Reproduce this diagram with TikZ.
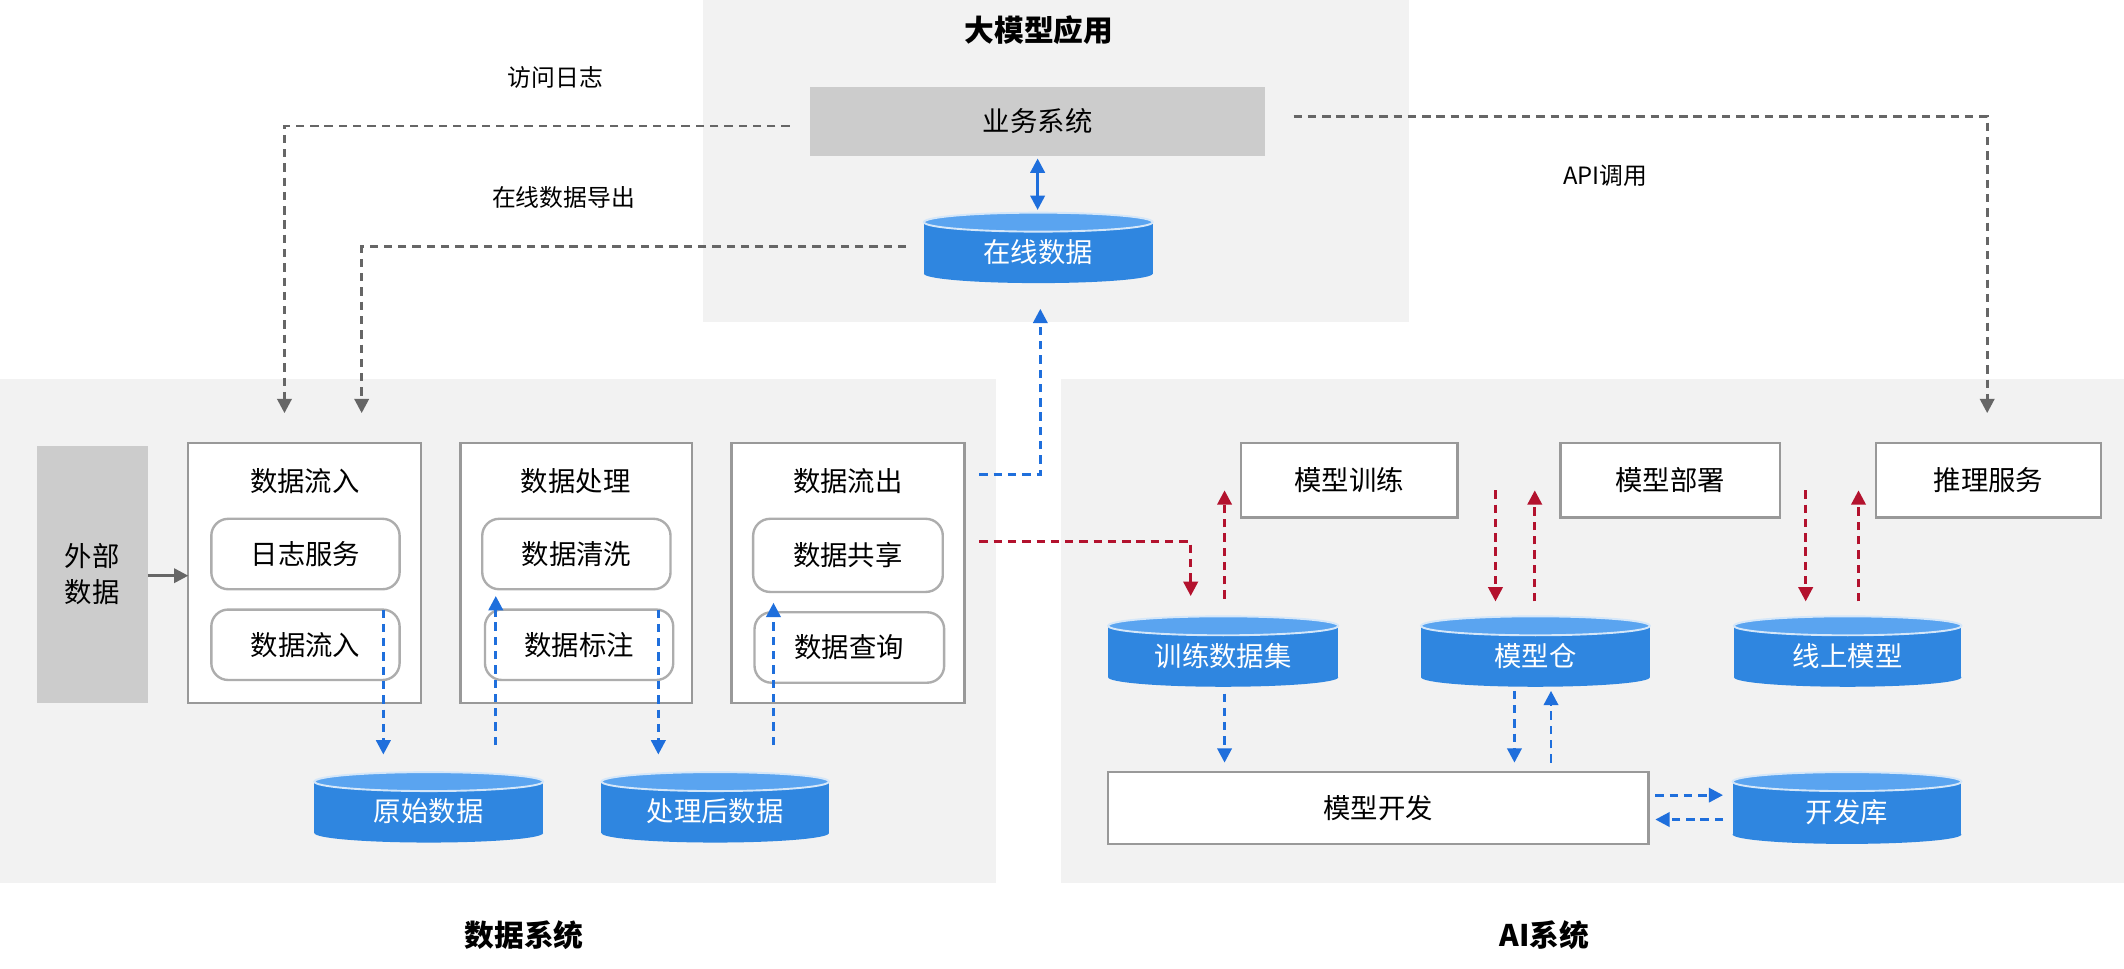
\documentclass[tikz,border=0pt]{standalone}
\usepackage{fontspec}
\setmainfont{Noto Sans CJK SC}
\usetikzlibrary{arrows.meta}
\definecolor{panel}{HTML}{F2F2F2}
\definecolor{bgray}{HTML}{CCCCCC}
\definecolor{cblue}{HTML}{2F86E0}
\definecolor{ctop}{HTML}{5AA4F0}
\definecolor{ablue}{HTML}{1F6FDC}
\definecolor{ared}{HTML}{B3122E}
\definecolor{agray}{HTML}{666666}
\definecolor{bord}{HTML}{999999}
\newcommand\bx[7]{\node[#6, minimum width={(#4-#2)*0.02cm}, minimum height={(#5-#3)*0.02cm}] (#1) at ({(#2+#4)/2},{(#3+#5)/2}) {#7};}
\newcommand\cy[6]{%
 \fill[cblue] (#2,#3+7) rectangle (#4,#5-7);
 \fill[cblue] ({(#2+#4)/2},#5-7) ellipse [x radius={(#4-#2)*0.01cm}, y radius=0.14cm];
 \filldraw[fill=ctop,draw=white!80!cblue,line width=0.8pt] ({(#2+#4)/2},#3+7) ellipse [x radius={(#4-#2)*0.01cm}, y radius=0.14cm];
 \node[text=white,font=\fontsize{11.5}{13}\selectfont, minimum width={(#4-#2)*0.02cm}, minimum height={(#5-#3)*0.02cm}] (#1) at ({(#2+#4)/2},{(#3+#5)/2+3}) {#6};}
\tikzset{
 box/.style={draw=bord,line width=1pt,fill=white,inner sep=0,outer sep=0,font=\fontsize{11.5}{13}\selectfont},
 rbox/.style={box,rounded corners=0.25cm,draw=bord!80},
 gbox/.style={fill=bgray,inner sep=0,outer sep=0,align=center,font=\fontsize{11.5}{15}\selectfont},
 ttl/.style={font=\fontsize{11.5}{13}\selectfont,anchor=north},
 lbl/.style={font=\fontsize{10}{12}\selectfont},
 big/.style={font=\bfseries\fontsize{12.5}{14}\selectfont},
 ga/.style={draw=agray,line width=1.2pt,dash pattern=on 3.5pt off 2.5pt,-{Triangle[length=6pt,width=6pt,fill=agray]}},
 ba/.style={ga,draw=ablue,-{Triangle[length=6pt,width=6pt,fill=ablue]}},
 ra/.style={ga,draw=ared,-{Triangle[length=6pt,width=6pt,fill=ared]}},
}
\begin{document}
\begin{tikzpicture}[x=0.02cm,y=-0.02cm]
\useasboundingbox (0,0) rectangle (1568,715);
\fill[panel] (519,0) rectangle (1040,238);
\fill[panel] (0,280) rectangle (735,652);
\fill[panel] (783,280) rectangle (1568,652);
\node[big] (t1) at (767,22) {大模型应用};
\node[big] (t2) at (387,690) {数据系统};
\node[big] (t3) at (1140,690) {AI系统};
\bx{ywxt}{598}{64}{934}{115}{gbox}{业务系统}
\cy{zxsj}{682}{157}{851}{209}{在线数据}
\draw[ablue,line width=1.2pt,{Triangle[length=6pt,width=6pt]}-{Triangle[length=6pt,width=6pt]}] (766,117) -- (766,155);
% data system
\bx{wb}{27}{329}{109}{519}{gbox}{外部\\数据}
\bx{lr}{139}{327}{311}{519}{box}{}
\node[ttl] (lrt) at (225,340) {数据流入};
\bx{rz}{156}{383}{295}{435}{rbox}{日志服务}
\bx{lr2}{156}{450}{295}{502}{rbox}{数据流入}
\bx{cl}{340}{327}{511}{519}{box}{}
\node[ttl] (clt) at (425,340) {数据处理};
\bx{qx}{356}{383}{495}{435}{rbox}{数据清洗}
\bx{bz}{358}{450}{497}{502}{rbox}{数据标注}
\bx{lc}{540}{327}{712}{519}{box}{}
\node[ttl] (lct) at (626,340) {数据流出};
\bx{gx}{556}{383}{696}{437}{rbox}{数据共享}
\bx{cx}{557}{452}{697}{504}{rbox}{数据查询}
\cy{ys}{232}{570}{401}{622}{原始数据}
\cy{clh}{444}{570}{612}{622}{处理后数据}
\draw[agray,line width=1.2pt,-{Triangle[length=6pt,width=6pt]}] (wb.east|-0,425) -- (lr.west|-0,425);
\draw[ba] (283,450) -- (283,557);
\draw[ba] (366,550) -- (366,440);
\draw[ba] (486,450) -- (486,557);
\draw[ba] (571,550) -- (571,445);
\draw[ba] (723,350) -- (768,350) -- (768,228);
\draw[ra] (723,400) -- (879,400) -- (879,440);
% gray dashed
\draw[ga] (583,93) -- (210,93) -- (210,305);
\node[lbl] (l1) at (410,57) {访问日志};
\draw[ga] (669,182) -- (267,182) -- (267,305);
\node[lbl] (l2) at (416,146) {在线数据导出};
\draw[ga] (955,86) -- (1467,86) -- (1467,305);
\node[lbl] (l3) at (1185,130) {API调用};
% AI
\bx{xl}{916}{327}{1076}{382}{box}{模型训练}
\bx{bs}{1152}{327}{1314}{382}{box}{模型部署}
\bx{tl}{1385}{327}{1551}{382}{box}{推理服务}
\cy{sjj}{818}{455}{988}{507}{训练数据集}
\cy{mxc}{1049}{455}{1218}{507}{模型仓}
\cy{xs}{1280}{455}{1448}{507}{线上模型}
\draw[ra] (904,442) -- (904,362);
\draw[ra] (1104,362) -- (1104,444);
\draw[ra] (1133,444) -- (1133,362);
\draw[ra] (1333,362) -- (1333,444);
\draw[ra] (1372,444) -- (1372,362);
\bx{kf}{818}{570}{1217}{623}{box}{模型开发}
\cy{kfk}{1279}{570}{1448}{623}{开发库}
\draw[ba] (904,512) -- (904,563);
\draw[ba] (1118,510) -- (1118,563);
\draw[ba] (1145,563) -- (1145,510);
\draw[ba] (1222,587) -- (1272,587);
\draw[ba] (1272,605) -- (1222,605);
\end{tikzpicture}
\end{document}
